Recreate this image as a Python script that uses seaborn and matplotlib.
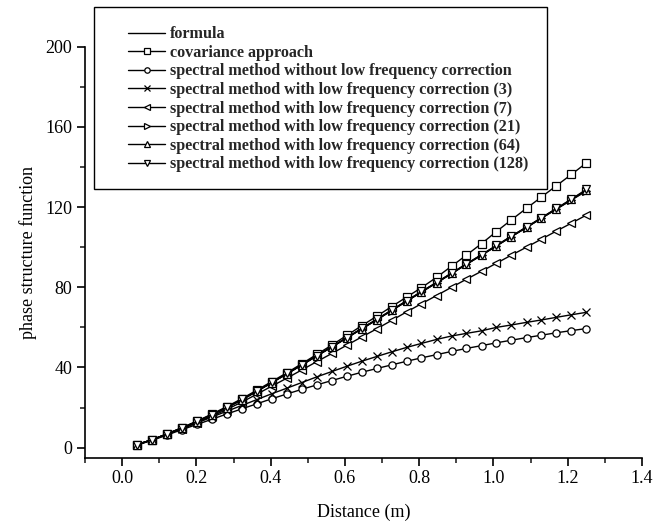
import matplotlib
matplotlib.use("Agg")
import matplotlib.pyplot as plt
import seaborn as sns
import pandas as pd
from matplotlib.patches import Rectangle

distance = [0.040, 0.081, 0.121, 0.161, 0.202, 0.242, 0.282, 0.323, 0.363, 0.403,
            0.444, 0.484, 0.524, 0.565, 0.605, 0.645, 0.686, 0.726, 0.766, 0.806,
            0.847, 0.887, 0.927, 0.968, 1.008, 1.048, 1.089, 1.129, 1.169, 1.210, 1.250]

formula = [1.5, 4.0, 6.8, 9.8, 13.0, 16.4, 20.0, 24.0, 28.2, 32.5,
           36.9, 41.3, 45.8, 50.3, 54.8, 59.3, 63.9, 68.5, 73.1, 77.7,
           82.3, 86.9, 91.5, 96.1, 100.7, 105.3, 109.9, 114.5, 119.1, 123.7, 128.3]
covariance = [1.5, 4.0, 6.9, 10.0, 13.3, 16.8, 20.5, 24.5, 28.7, 33.0,
              37.4, 41.9, 46.5, 51.2, 56.0, 60.8, 65.6, 70.4, 75.1, 79.8,
              85.0, 90.5, 96.0, 101.8, 107.8, 113.6, 119.4, 125.0, 130.6, 136.3, 142.0]
spec_none = [1.3, 3.7, 6.3, 9.0, 11.6, 14.2, 16.8, 19.4, 21.9, 24.4,
             26.8, 29.1, 31.3, 33.5, 35.6, 37.6, 39.5, 41.3, 43.1, 44.8,
             46.4, 48.0, 49.5, 50.9, 52.3, 53.6, 54.9, 56.1, 57.3, 58.4, 59.4]
spec_3 = [1.4, 4.0, 6.7, 9.5, 12.4, 15.3, 18.2, 21.1, 24.0, 26.9,
          29.7, 32.5, 35.3, 38.0, 40.6, 43.1, 45.5, 47.8, 50.0, 52.0,
          54.0, 55.7, 57.0, 58.3, 60.0, 61.2, 62.5, 63.7, 65.0, 66.3, 67.5]
spec_7 = [1.4, 3.9, 6.6, 9.5, 12.5, 15.7, 19.1, 22.8, 26.7, 30.7,
          34.7, 38.8, 42.9, 47.0, 51.1, 55.2, 59.3, 63.5, 67.7, 71.8,
          75.9, 80.0, 84.0, 88.0, 92.0, 96.0, 100.0, 104.0, 108.0, 112.0, 116.0]
spec_21 = [1.5, 4.0, 6.8, 9.8, 13.0, 16.4, 20.0, 23.9, 28.1, 32.4,
           36.8, 41.2, 45.7, 50.2, 54.7, 59.2, 63.8, 68.4, 73.0, 77.6,
           82.2, 86.8, 91.4, 96.0, 100.6, 105.2, 109.8, 114.4, 118.9, 123.5, 128.0]
spec_64 = [1.5, 4.0, 6.8, 9.8, 13.0, 16.4, 20.0, 24.0, 28.2, 32.5,
           36.9, 41.3, 45.8, 50.3, 54.8, 59.3, 63.9, 68.5, 73.1, 77.7,
           82.3, 86.9, 91.5, 96.1, 100.7, 105.3, 109.9, 114.5, 119.1, 123.8, 128.5]
spec_128 = [1.5, 4.0, 6.8, 9.9, 13.1, 16.5, 20.1, 24.1, 28.3, 32.6,
            37.0, 41.4, 45.9, 50.4, 54.9, 59.5, 64.1, 68.7, 73.3, 77.9,
            82.5, 87.1, 91.7, 96.3, 100.9, 105.5, 110.1, 114.7, 119.3, 124.0, 128.8]

labels = ["formula", "covariance approach",
          "spectral method without low frequency correction",
          "spectral method with low frequency correction (3)",
          "spectral method with low frequency correction (7)",
          "spectral method with low frequency correction (21)",
          "spectral method with low frequency correction (64)",
          "spectral method with low frequency correction (128)"]
series = [formula, covariance, spec_none, spec_3, spec_7, spec_21, spec_64, spec_128]
markers = [None, "s", "o", "x", "<", ">", "^", "v"]

xticks = [0.0, 0.2, 0.4, 0.6, 0.8, 1.0, 1.2, 1.4]
yticks = [0, 40, 80, 120, 160, 200]

sns.set_theme(style="ticks")
plt.rcParams["font.family"] = ["Liberation Serif", "DejaVu Serif"]

fig = plt.figure(figsize=(6.58, 5.27), dpi=100)
ax = fig.add_axes([85/658, 1-457.7/527, (642-85)/658, (457.7-46.7)/527])

for lab, vals, mk in zip(labels, series, markers):
    df = pd.DataFrame({"x": distance, "y": vals})
    kw = dict(color="black", linewidth=1.0)
    if mk is not None:
        kw.update(marker=mk, markersize=5.2, markerfacecolor="white",
                  markeredgecolor="black", markeredgewidth=0.9)
    sns.lineplot(data=df, x="x", y="y", ax=ax, label=lab, **kw)

ax.set_xlim(-0.1, 1.4)
ax.set_ylim(-5, 200)
ax.set_xticks(xticks)
ax.set_xticklabels([f"{t:.1f}" for t in xticks])
ax.set_yticks(yticks)
ax.set_yticklabels([str(t) for t in yticks])
ax.set_xticks([-0.1, 0.1, 0.3, 0.5, 0.7, 0.9, 1.1, 1.3], minor=True)
ax.set_yticks([20, 60, 100, 140, 180], minor=True)
ax.tick_params(axis="both", which="major", direction="out", length=6, width=1.2,
               labelsize=13, colors="black", pad=3)
ax.tick_params(axis="both", which="minor", direction="out", length=3.5, width=1.2)
for s in ["top", "right"]:
    ax.spines[s].set_visible(False)
for s in ["left", "bottom"]:
    ax.spines[s].set_linewidth(1.2)
    ax.spines[s].set_color("black")
ax.set_xlabel("Distance (m)", fontsize=13, color="black", labelpad=12)
ax.set_ylabel("phase structure function", fontsize=13, color="black", labelpad=6)
ax.set_facecolor("white")

handles, labs = ax.get_legend_handles_labels()
if ax.get_legend():
    ax.get_legend().remove()
leg = fig.legend(handles, labs, loc="upper left",
                 bbox_to_anchor=(117/658, 1-15/527), bbox_transform=fig.transFigure,
                 frameon=False, prop={"family": "Liberation Serif", "weight": "bold", "size": 11.6},
                 handlelength=2.3, handletextpad=0.3, labelspacing=0.16, borderpad=0.2,
                 markerscale=0.75)
fig.patches.append(Rectangle((94/658, 1-189/527), (547-94)/658, (189-7)/527,
                             transform=fig.transFigure, fill=False,
                             edgecolor="black", linewidth=1.0))

fig.savefig("out.png", dpi=100, facecolor="white")
